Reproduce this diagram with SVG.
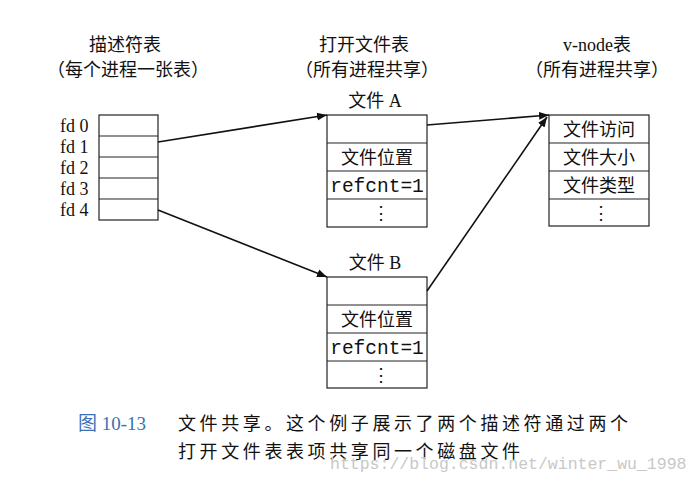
<svg xmlns="http://www.w3.org/2000/svg" width="698" height="482" viewBox="0 0 698 482">
<style>
.t{font-family:"Liberation Serif","Noto Sans CJK SC",serif;font-size:18px;fill:#111}
.c{text-anchor:middle}
.m{font-family:"Liberation Mono",monospace;font-size:19.5px;fill:#111}
.b{fill:#fff;stroke:#222;stroke-width:1.2}
.l{stroke:#222;stroke-width:1.2}
.a{stroke:#111;stroke-width:1.6;fill:none;marker-end:url(#ar)}
.cap{letter-spacing:3.6px}
</style>
<defs><marker id="ar" viewBox="0 0 10 10" refX="10" refY="5" markerWidth="10" markerHeight="10" markerUnits="userSpaceOnUse" orient="auto"><path d="M0,1 L10,5 L0,9 z" fill="#111"/></marker></defs>
<rect width="698" height="482" fill="#fff"/>
<g id="headers">
<text class="t c" x="125" y="51">描述符表</text>
<text class="t c" x="128" y="76">（每个进程一张表）</text>
<text class="t c" x="364" y="51">打开文件表</text>
<text class="t c" x="367" y="76">（所有进程共享）</text>
<text class="t c" x="597" y="51">v-node表</text>
<text class="t c" x="597" y="76">（所有进程共享）</text>
</g>
<g id="fdtable">
<rect class="b" x="99" y="115" width="59" height="105"/>
<line class="l" x1="99" y1="136" x2="158" y2="136"/><line class="l" x1="99" y1="157" x2="158" y2="157"/><line class="l" x1="99" y1="178" x2="158" y2="178"/><line class="l" x1="99" y1="199" x2="158" y2="199"/>
<text class="t" x="60" y="132">fd 0</text><text class="t" x="60" y="153">fd 1</text><text class="t" x="60" y="174">fd 2</text><text class="t" x="60" y="195">fd 3</text><text class="t" x="60" y="216">fd 4</text>
</g>
<g id="fileA">
<text class="t c" x="375" y="107">文件 A</text>
<rect class="b" x="327" y="115" width="100" height="112"/>
<line class="l" x1="327" y1="143" x2="427" y2="143"/><line class="l" x1="327" y1="171" x2="427" y2="171"/><line class="l" x1="327" y1="199" x2="427" y2="199"/>
<text class="t c" x="377" y="164">文件位置</text>
<text class="m c" x="377" y="192">refcnt=1</text>
<text class="t c" x="381" y="219">⋮</text>
</g>
<g id="fileB">
<text class="t c" x="375" y="269">文件 B</text>
<rect class="b" x="327" y="277" width="100" height="111"/>
<line class="l" x1="327" y1="305" x2="427" y2="305"/><line class="l" x1="327" y1="333" x2="427" y2="333"/><line class="l" x1="327" y1="361" x2="427" y2="361"/>
<text class="t c" x="377" y="326">文件位置</text>
<text class="m c" x="377" y="354">refcnt=1</text>
<text class="t c" x="381" y="381">⋮</text>
</g>
<g id="vnode">
<rect class="b" x="549" y="115" width="100" height="111"/>
<line class="l" x1="549" y1="143" x2="649" y2="143"/><line class="l" x1="549" y1="171" x2="649" y2="171"/><line class="l" x1="549" y1="199" x2="649" y2="199"/>
<text class="t c" x="599" y="136">文件访问</text>
<text class="t c" x="599" y="164">文件大小</text>
<text class="t c" x="599" y="192">文件类型</text>
<text class="t c" x="601" y="219">⋮</text>
</g>
<g id="connectors">
<path class="a" d="M158,142 L327,115"/>
<path class="a" d="M158,210 L327,277"/>
<path class="a" d="M427,125 L549,115"/>
<path class="a" d="M427,291 L547,117"/>
</g>
<g id="caption">
<text class="t" x="78" y="430" style="fill:#3a6fb5;font-size:19px">图 10-13</text>
<text class="t cap" x="178" y="430">文件共享。这个例子展示了两个描述符通过两个</text>
<text class="t cap" x="178" y="458">打开文件表表项共享同一个磁盘文件</text>
<text x="330" y="469" style="font-family:'Liberation Mono',monospace;font-size:16.5px;fill:#c8c8c8">https://blog.csdn.net/winter_wu_1998</text>
</g>
</svg>
